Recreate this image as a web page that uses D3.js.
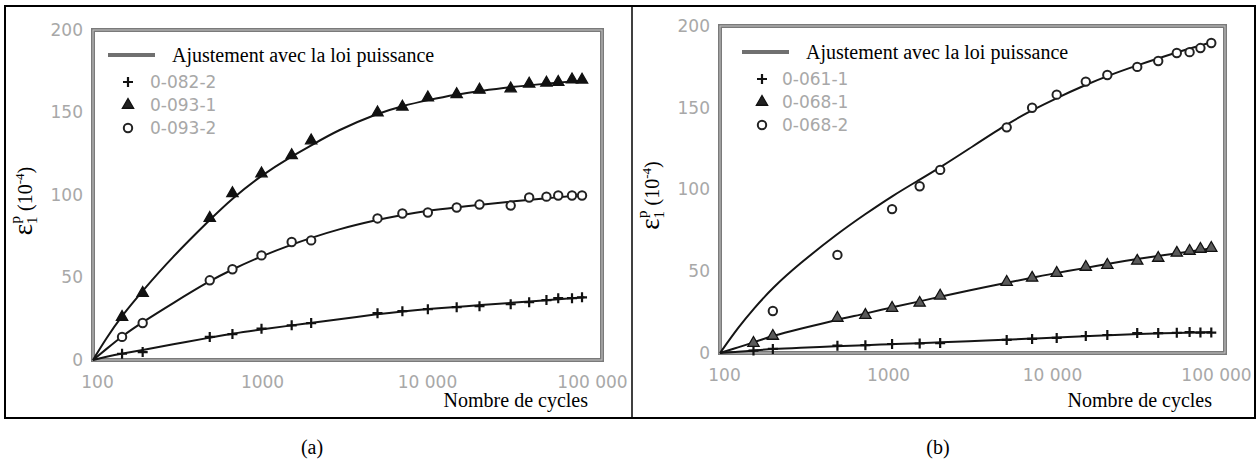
<!DOCTYPE html>
<html>
<head>
<meta charset="utf-8">
<script src="https://cdn.jsdelivr.net/npm/d3@7"></script>
<style>
  html, body { margin: 0; padding: 0; background: #fff; }
  svg { display: block; }
  .tick text { font-family: "DejaVu Sans", sans-serif; font-size: 17px; fill: #a8a8a8; }
  .serif { font-family: "Liberation Serif", "Times New Roman", serif; fill: #000; }
  .leg { font-family: "DejaVu Sans", sans-serif; font-size: 17px; fill: #a8a8a8; }
</style>
</head>
<body>
<svg id="chart" width="1260" height="475"></svg>
<script>
// ---- Panel (a): number of cycles and permanent axial strain (10^-4) ----
const cyclesA = [150, 200, 510, 700, 1050, 1600, 2100, 5300, 7500, 10700, 16000, 22000, 34000, 44000, 56000, 66000, 80000, 92000];
const strainA_082_2 = [3.8, 4.8, 14, 15.7, 19, 21, 22.4, 28.4, 29.6, 30.8, 32, 32.6, 33.8, 35, 36.3, 37.5, 37.5, 38];
const strainA_093_1 = [26, 40.5, 86, 101, 113, 124, 133, 150, 153.5, 159, 161, 163.7, 164.5, 167.4, 168, 168.5, 170, 169.8];
const strainA_093_2 = [14, 22.4, 48.3, 55, 63.4, 71.5, 72.5, 85.8, 88.8, 89.4, 92.4, 94.2, 93.6, 98.5, 99, 99.7, 99.7, 99.7];

// power-law fit curves of panel (a)
const fitCyclesA = [100, 120, 150, 200, 300, 510, 700, 1050, 1600, 2100, 3000, 5300, 7500, 10700, 16000, 22000, 34000, 56000, 95000];
const fitA_082_2 = [0, 2, 4, 6, 9.5, 13.5, 16, 18.5, 21, 22.5, 24.5, 27.8, 29.5, 30.9, 32.2, 33.2, 34.6, 36.2, 38];
const fitA_093_1 = [0, 13, 27, 42, 62, 85, 98, 112, 123.5, 130, 139, 149.5, 154, 157.5, 161, 163, 165.5, 167.5, 169.5];
const fitA_093_2 = [0, 6.5, 14.5, 23, 34, 48, 55, 63, 70, 74, 79, 85, 88, 90.5, 92.5, 94, 96, 98, 100];

// ---- Panel (b) ----
const cyclesB = [160, 210, 520, 770, 1120, 1650, 2200, 5600, 8000, 11300, 17000, 23000, 35000, 47000, 61000, 73000, 85000, 99000];
const strainB_061_1 = [1.5, 2.5, 4.5, 4.8, 5.5, 5.8, 6.1, 8, 8.6, 9.2, 10.4, 11, 12.2, 12.2, 12.4, 12.8, 12.5, 12.5];
const strainB_068_1 = [6.1, 10.4, 21.4, 23.2, 27.5, 30.6, 35, 43.4, 45.9, 48.9, 52.6, 53.8, 56.3, 58.1, 61.2, 62.4, 63.6, 64.2];
const cyclesB_068_2 = [210, 520, 1120, 1650, 2200, 5600, 8000, 11300, 17000, 23000, 35000, 47000, 61000, 73000, 85000, 99000];
const strainB_068_2 = [25.7, 60, 88, 102, 112, 138, 150, 158, 166, 170, 175, 178.6, 183.5, 184, 186.5, 189.6];

const fitCyclesB = [100, 130, 160, 210, 300, 520, 770, 1120, 1650, 2200, 3200, 5600, 8000, 11300, 17000, 23000, 35000, 61000, 99000];
const fitB_061_1 = [0, 0.8, 1.5, 2.5, 3.2, 4.2, 4.8, 5.4, 6, 6.5, 7.2, 8.2, 8.8, 9.5, 10.3, 10.9, 11.6, 12.3, 12.8];
const fitB_068_1 = [0, 3.5, 6.5, 10.5, 14.5, 20.5, 24, 28, 31.5, 34.5, 38, 43, 46, 49, 52, 54.5, 57.5, 61, 64];
const fitB_068_2 = [0, 16, 27, 40, 54, 73, 85, 96, 106, 113.5, 124, 140, 148.5, 156, 164, 169.5, 176, 184, 190];

// axes
const yTicks = [0, 50, 100, 150, 200];
const xTicks = [100, 1000, 10000, 100000];
const xTickLabels = ["100", "1000", "10 000", "100 000"];
const fitLabel = "Ajustement avec la loi puissance";
const xTitle = "Nombre de cycles";

const panels = [
  {
    caption: "(a)", capX: 312,
    box: { l: 93, t: 30, r: 602, b: 360 }, xEnd: 588, titleX: 24,
    legend: { lineX: 108, textX: 150, markX: 128, y0: 55 },
    series: [
      { name: "0-082-2", shape: "cross", x: cyclesA, y: strainA_082_2, fit: fitA_082_2 },
      { name: "0-093-1", shape: "tri", x: cyclesA, y: strainA_093_1, fit: fitA_093_1 },
      { name: "0-093-2", shape: "circle", x: cyclesA, y: strainA_093_2, fit: fitA_093_2 }
    ],
    fitX: fitCyclesA, triFill: "#111"
  },
  {
    caption: "(b)", capX: 938,
    box: { l: 720, t: 26, r: 1225, b: 353 }, xEnd: 1212, titleX: 651,
    legend: { lineX: 742, textX: 782, markX: 762, y0: 52 },
    series: [
      { name: "0-061-1", shape: "cross", x: cyclesB, y: strainB_061_1, fit: fitB_061_1 },
      { name: "0-068-1", shape: "tri", x: cyclesB, y: strainB_068_1, fit: fitB_068_1 },
      { name: "0-068-2", shape: "circle", x: cyclesB_068_2, y: strainB_068_2, fit: fitB_068_2 }
    ],
    fitX: fitCyclesB, triFill: "#5a5a5a"
  }
];

const svg = d3.select("#chart");

// outer frame and divider
svg.append("rect").attr("x", 5).attr("y", 6).attr("width", 1250).attr("height", 412)
  .attr("fill", "none").attr("stroke", "#000").attr("stroke-width", 2);
svg.append("line").attr("x1", 632).attr("x2", 632).attr("y1", 6).attr("y2", 418)
  .attr("stroke", "#000").attr("stroke-width", 1.5);

function drawMarker(g, shape, triFill) {
  if (shape === "cross") {
    g.append("path").attr("d", "M-5,0H5M0,-5V5").attr("stroke", "#111").attr("stroke-width", 2.2);
  } else if (shape === "tri") {
    g.append("path").attr("d", d3.symbol(d3.symbolTriangle, 55)())
      .attr("fill", triFill).attr("stroke", "#111").attr("stroke-width", 1.3);
  } else {
    g.append("circle").attr("r", 4.2).attr("fill", "#fff").attr("stroke", "#222").attr("stroke-width", 2);
  }
}

panels.forEach(p => {
  const B = p.box;
  const x = d3.scaleLog().domain([100, 100000]).range([B.l, p.xEnd]);
  const y = d3.scaleLinear().domain([0, 200]).range([B.b, B.t]);
  const g = svg.append("g");

  // plot frame (grey double line)
  g.append("rect").attr("x", B.l).attr("y", B.t).attr("width", B.r - B.l).attr("height", B.b - B.t)
    .attr("fill", "#fff").attr("stroke", "#7a7a7a").attr("stroke-width", 4);
  g.append("rect").attr("x", B.l).attr("y", B.t).attr("width", B.r - B.l).attr("height", B.b - B.t)
    .attr("fill", "none").attr("stroke", "#c4c4c4").attr("stroke-width", 1);

  // axes labels
  const ya = g.append("g").attr("transform", `translate(${B.l},0)`)
    .call(d3.axisLeft(y).tickValues(yTicks).tickSize(0).tickPadding(10));
  ya.select(".domain").remove();
  const xa = g.append("g").attr("transform", `translate(4,${B.b})`)
    .call(d3.axisBottom(x).tickValues(xTicks).tickSize(0).tickPadding(16)
      .tickFormat((d, i) => xTickLabels[i]));
  xa.select(".domain").remove();

  // fit curves
  const line = d3.line().x(d => x(d[0])).y(d => y(d[1])).curve(d3.curveBasis);
  p.series.forEach(s => {
    g.append("path").datum(p.fitX.map((n, i) => [n, s.fit[i]]))
      .attr("d", line).attr("fill", "none").attr("stroke", "#151515").attr("stroke-width", 2);
  });

  // measured points
  p.series.forEach(s => {
    s.x.forEach((n, i) => {
      const m = g.append("g").attr("transform", `translate(${x(n)},${y(s.y[i])})`);
      drawMarker(m, s.shape, p.triFill);
    });
  });

  // legend
  const L = p.legend;
  g.append("line").attr("x1", L.lineX).attr("x2", L.lineX + 47).attr("y1", L.y0).attr("y2", L.y0)
    .attr("stroke", "#707070").attr("stroke-width", 4);
  g.append("text").attr("class", "serif").attr("x", L.lineX + 64).attr("y", L.y0 + 7)
    .style("font-size", "20px").text(fitLabel);
  p.series.forEach((s, i) => {
    const yy = L.y0 + 27 + i * 23;
    const m = g.append("g").attr("transform", `translate(${L.markX},${yy})`);
    drawMarker(m, s.shape, "#222");
    g.append("text").attr("class", "leg").attr("x", L.textX).attr("y", yy).attr("dy", "0.36em").text(s.name);
  });

  // axis titles
  g.append("text").attr("class", "serif").attr("x", p.xEnd).attr("y", 407)
    .attr("text-anchor", "end").style("font-size", "20px").text(xTitle);

  const yt = g.append("text").attr("class", "serif")
    .attr("transform", `translate(${p.titleX + 8},${(B.t + B.b) / 2 + 6}) rotate(-90)`)
    .attr("text-anchor", "middle").style("font-size", "20px");
  yt.append("tspan").style("font-size", "27px").text("ε");
  yt.append("tspan").attr("dy", "5").style("font-size", "15px").text("1");
  yt.append("tspan").attr("dx", "-7").attr("dy", "-17").style("font-size", "15px").text("p");
  yt.append("tspan").attr("dy", "12").text(" (10");
  yt.append("tspan").attr("dy", "-8").style("font-size", "13px").text("-4");
  yt.append("tspan").attr("dy", "8").text(")");

  // caption
  svg.append("text").attr("class", "serif").attr("x", p.capX).attr("y", 454)
    .attr("text-anchor", "middle").style("font-size", "20px").text(p.caption);
});
</script>
</body>
</html>
